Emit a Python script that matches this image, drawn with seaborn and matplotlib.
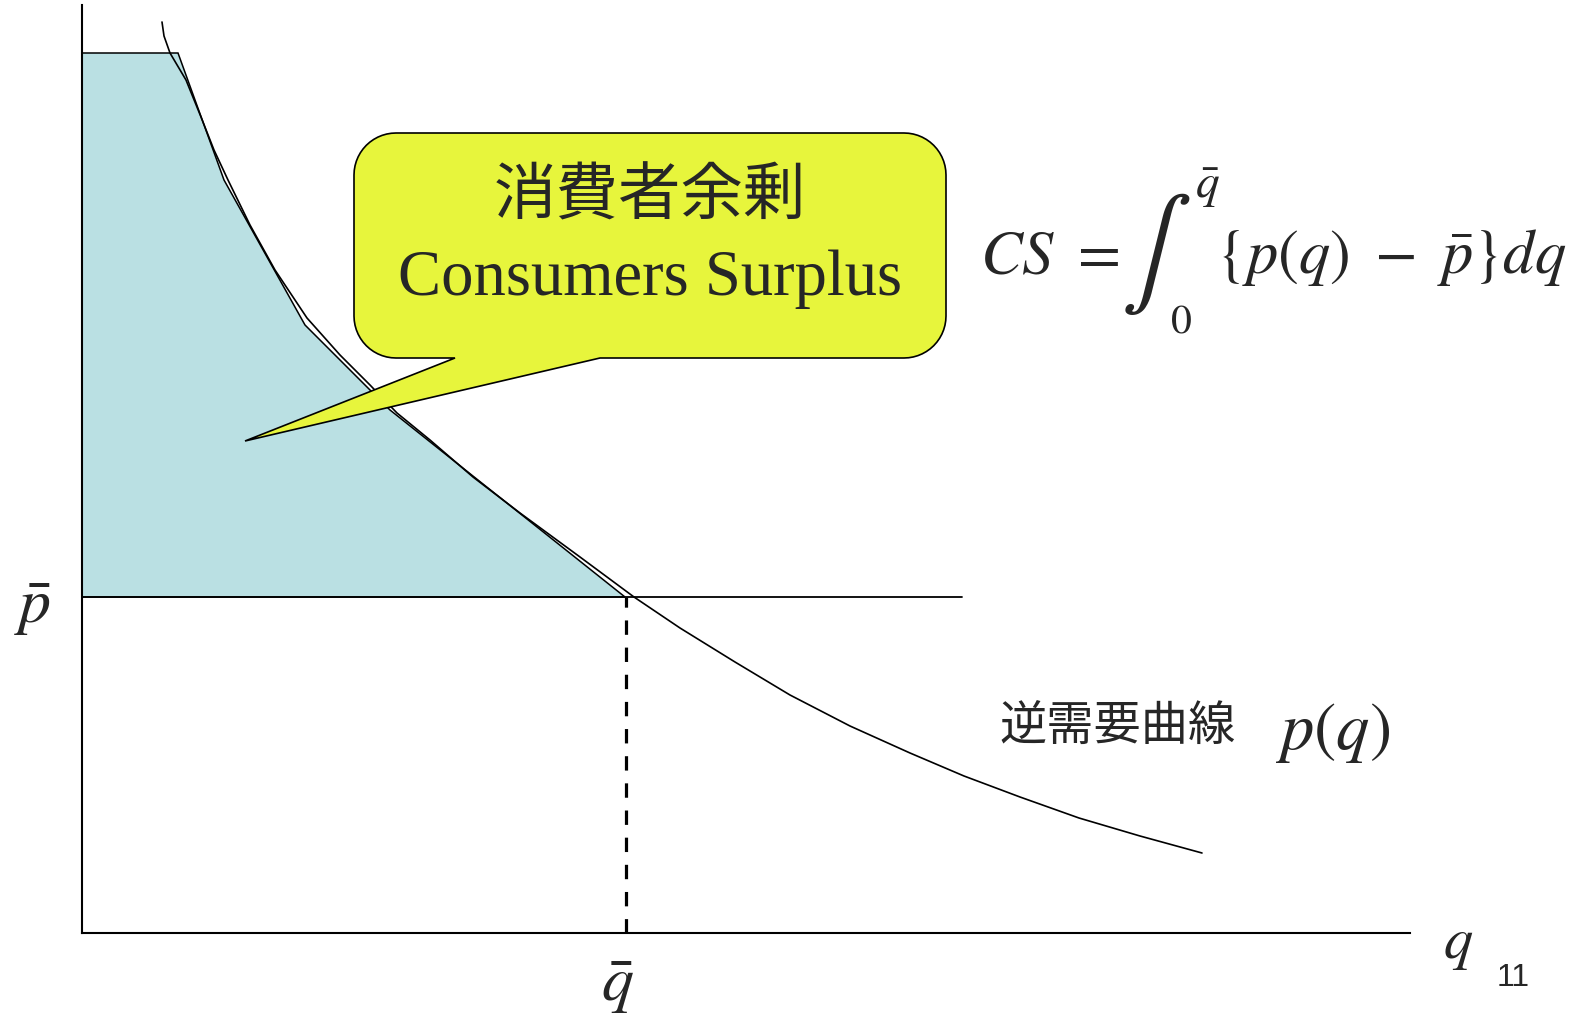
import numpy as np
import matplotlib
matplotlib.use("Agg")
import matplotlib.pyplot as plt
import seaborn as sns
from matplotlib.patches import Polygon

# inverse demand curve p(q) (1 unit = 100 px)
q_curve = [0.80, 0.82, 0.88, 1.04, 1.19, 1.32, 1.46, 1.68, 1.93, 2.25, 2.58, 2.88,
           3.15, 3.48, 3.91, 4.38, 4.98, 5.52, 5.98, 6.53, 7.08, 7.68, 8.28, 8.82,
           9.38, 9.97, 10.58, 11.20]
p_curve = [9.11, 8.97, 8.80, 8.53, 8.16, 7.83, 7.53, 7.08, 6.63, 6.15, 5.78, 5.48,
           5.20, 4.93, 4.56, 4.20, 3.76, 3.36, 3.05, 2.71, 2.38, 2.07, 1.80, 1.57,
           1.36, 1.15, 0.97, 0.80]

# shaded consumer surplus area (as outlined on the slide)
cs_q = [0.00, 0.96, 1.42, 2.23, 3.08, 5.43, 0.00]
cs_p = [8.80, 8.80, 7.53, 6.08, 5.23, 3.36, 3.36]

p_bar = 3.36
q_bar = 5.44
p_bar_end = 8.80

callout_title = "消費者余剰"
callout_sub = "Consumers Surplus"
curve_label = "逆需要曲線"
page_no = "11"

sns.set_style("white")
plt.rcParams['font.family'] = ['Noto Sans CJK JP', 'DejaVu Sans']
plt.rcParams['mathtext.fontset'] = 'stix'

fig = plt.figure(figsize=(15.93, 10.18), dpi=100)
ax = fig.add_axes([82 / 1593, 85 / 1018, 1328 / 1593, 928 / 1018])
ax.set_xlim(0, 13.28)
ax.set_ylim(0, 9.28)
ax.set_xticks([])
ax.set_yticks([])
for s in ['top', 'right']:
    ax.spines[s].set_visible(False)
for s in ['left', 'bottom']:
    ax.spines[s].set_color('black')
    ax.spines[s].set_linewidth(1.5)

# surplus area
ax.fill(cs_q, cs_p, facecolor='#BAE0E3', edgecolor='black', linewidth=1.1, zorder=1)

# demand curve
sns.lineplot(x=q_curve, y=p_curve, sort=False, estimator=None, color='black',
             linewidth=1.2, ax=ax, zorder=2)

# price line and dashed quantity line
ax.plot([0, p_bar_end], [p_bar, p_bar], color='black', linewidth=1.3, zorder=2)
ax.plot([q_bar, q_bar], [0, p_bar], color='black', linewidth=2.3,
        dashes=(4.5, 4), zorder=2)

# speech bubble
x0, y0, x1, y1, r = 2.72, 5.75, 8.64, 8.00, 0.42
base_l, base_r, tip = 3.73, 5.18, (1.63, 4.92)


def arc(cx, cy, a0, a1):
    t = np.radians(np.linspace(a0, a1, 15))
    return list(zip(cx + r * np.cos(t), cy + r * np.sin(t)))


verts = [(base_r, y0)]
verts += arc(x1 - r, y0 + r, -90, 0)
verts += arc(x1 - r, y1 - r, 0, 90)
verts += arc(x0 + r, y1 - r, 90, 180)
verts += arc(x0 + r, y0 + r, 180, 270)
verts += [(base_l, y0), tip]
ax.add_patch(Polygon(verts, closed=True, facecolor='#E7F53C', edgecolor='black',
                     linewidth=1.2, zorder=3))

ax.text(5.68, 7.36, callout_title, ha='center', va='center', fontsize=45, zorder=4)
ax.text(5.68, 6.38, callout_sub, ha='center', va='baseline', fontsize=46.5,
        family='Liberation Serif', zorder=4)

# formula CS = int_0^qbar {p(q) - pbar} dq, built from pieces
ax.text(8.98, 6.60, r'$CS\ =$', ha='left', va='baseline', fontsize=45, clip_on=False)
ax.text(10.74, 6.79, r'$\int$', ha='center', va='center', fontsize=76, clip_on=False)
ax.text(11.25, 7.47, r'$\bar{q}$', ha='center', va='center', fontsize=34, clip_on=False)
ax.text(10.99, 6.12, r'$0$', ha='center', va='center', fontsize=30, clip_on=False)
ax.text(11.34, 6.60, r'$\{p(q)\ -\ \bar{p}\}dq$', ha='left', va='baseline',
        fontsize=45, clip_on=False)

# curve label
ax.text(9.17, 2.05, curve_label, ha='left', va='center', fontsize=34)
ax.text(11.93, 2.02, r'$p(q)$', ha='left', va='center', fontsize=48)

# axis labels
ax.text(-0.50, 3.28, r'$\bar{p}$', ha='center', va='center', fontsize=46, clip_on=False)
ax.text(5.35, -0.50, r'$\bar{q}$', ha='center', va='center', fontsize=46, clip_on=False)
ax.text(13.76, -0.09, r'$q$', ha='center', va='center', fontsize=42, clip_on=False)
fig.text(1513 / 1593, 1 - 978 / 1018, page_no, ha='center', va='center',
         fontsize=23, family='Liberation Sans')

fig.savefig('out.png', dpi=100)
